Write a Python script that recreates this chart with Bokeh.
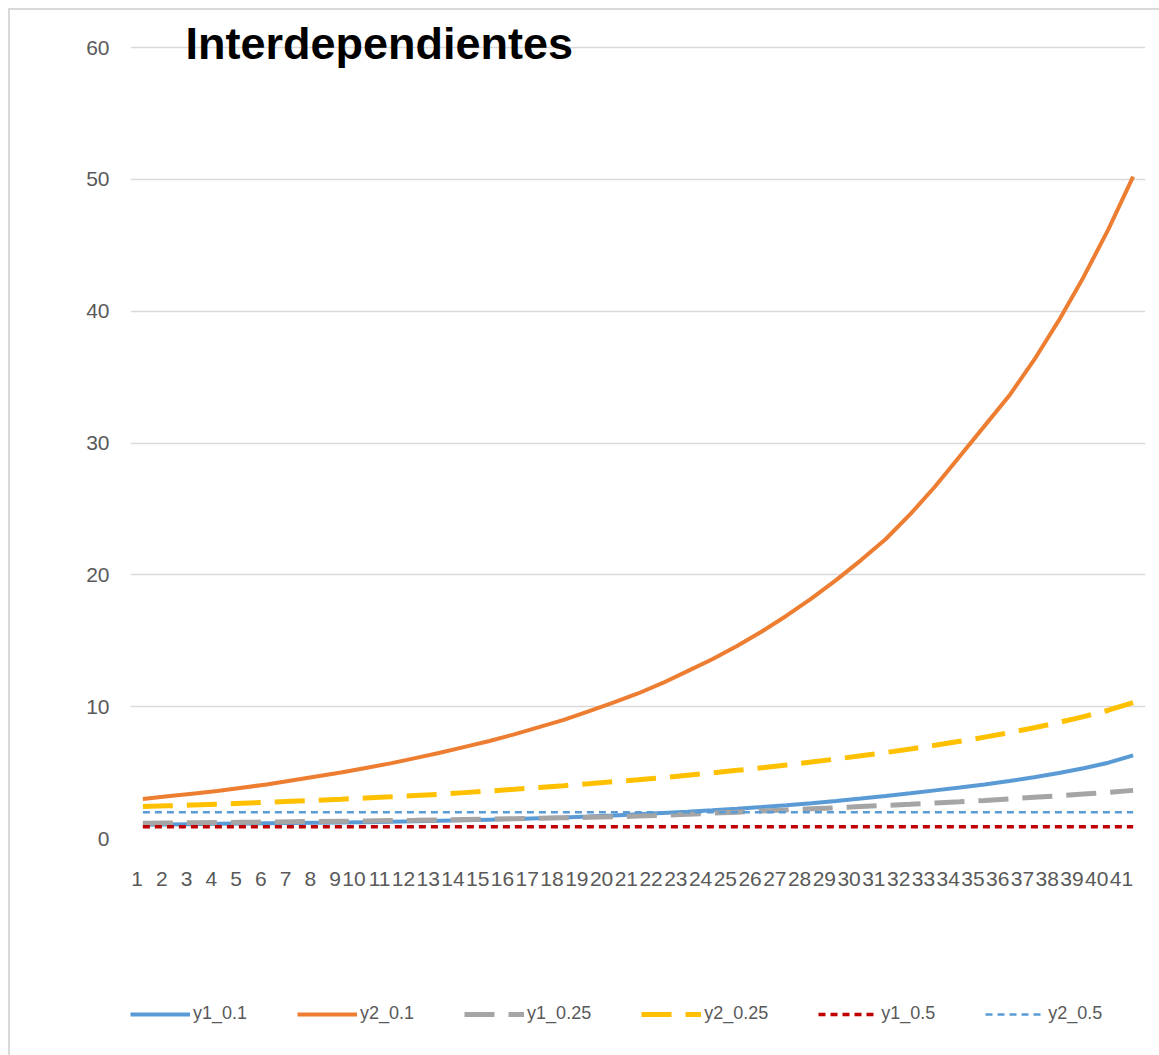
from bokeh.plotting import figure
from bokeh.layouts import column
from bokeh.models import Range1d, FactorRange, FixedTicker, Legend, LegendItem, Label
from bokeh.embed import file_html
from bokeh.resources import INLINE

categories = [str(i) for i in range(1, 42)]
y_ticks = [0, 10, 20, 30, 40, 50, 60]

y1_01 = [1.05, 1.07, 1.09, 1.11, 1.13, 1.15, 1.17, 1.19, 1.21, 1.24, 1.27, 1.30, 1.34, 1.38,
         1.43, 1.48, 1.54, 1.60, 1.67, 1.75, 1.84, 1.93, 2.03, 2.14, 2.26, 2.39, 2.53, 2.68,
         2.85, 3.03, 3.22, 3.43, 3.65, 3.87, 4.10, 4.36, 4.65, 4.97, 5.33, 5.75, 6.30]
y2_01 = [3.0, 3.2, 3.4, 3.6, 3.85, 4.1, 4.4, 4.7, 5.0, 5.35, 5.7, 6.1, 6.5, 6.95, 7.4, 7.9,
         8.45, 9.0, 9.65, 10.3, 11.0, 11.8, 12.7, 13.6, 14.6, 15.7, 16.9, 18.2, 19.6, 21.1,
         22.7, 24.6, 26.7, 29.0, 31.3, 33.6, 36.3, 39.3, 42.6, 46.2, 50.2]
y1_025 = [1.15, 1.17, 1.19, 1.21, 1.23, 1.25, 1.27, 1.29, 1.31, 1.33, 1.36, 1.38, 1.41, 1.44,
          1.47, 1.50, 1.53, 1.57, 1.61, 1.65, 1.70, 1.76, 1.83, 1.92, 2.00, 2.09, 2.17, 2.25,
          2.33, 2.42, 2.51, 2.60, 2.70, 2.79, 2.89, 3.00, 3.12, 3.24, 3.37, 3.50, 3.65]
y2_025 = [2.42, 2.48, 2.54, 2.60, 2.67, 2.74, 2.82, 2.90, 2.98, 3.07, 3.16, 3.26, 3.36, 3.48,
          3.60, 3.73, 3.87, 4.01, 4.16, 4.32, 4.45, 4.62, 4.80, 4.98, 5.17, 5.37, 5.58, 5.80,
          6.03, 6.27, 6.52, 6.79, 7.07, 7.37, 7.69, 8.03, 8.40, 8.80, 9.24, 9.73, 10.3]
y1_05 = [0.9] * 41
y2_05 = [2.0] * 41

series_names = ["y1_0.1", "y2_0.1", "y1_0.25", "y2_0.25", "y1_0.5", "y2_0.5"]
series_values = [y1_01, y2_01, y1_025, y2_025, y1_05, y2_05]
styles = [
    dict(line_color="#5B9BD5", line_width=4),
    dict(line_color="#ED7D31", line_width=4),
    dict(line_color="#A5A5A5", line_width=5, line_dash="30 14"),
    dict(line_color="#FFC000", line_width=5, line_dash="30 14"),
    dict(line_color="#C00000", line_width=3.5, line_dash="7 5"),
    dict(line_color="#5B9BD5", line_width=2.5, line_dash="7 5"),
]

tick_font = "Liberation Sans"

# main chart: frame extends a little above 60 so the title can sit over the top gridline
p = figure(width=1149, height=960, x_range=FactorRange(*categories), y_range=Range1d(0, 62.807),
           output_backend="svg", toolbar_location=None,
           min_border_left=120, min_border_right=14, min_border_top=0, min_border_bottom=132)
p.outline_line_color = None
p.background_fill_color = "white"
p.border_fill_color = "white"

p.xgrid.grid_line_color = None
p.ygrid.grid_line_color = "#d9d9d9"
p.ygrid.grid_line_width = 1.5
p.yaxis.ticker = FixedTicker(ticks=y_ticks)

for ax in (p.xaxis, p.yaxis):
    ax.axis_line_color = None
    ax.major_tick_line_color = None
    ax.minor_tick_line_color = None
    ax.major_tick_in = 0
    ax.major_tick_out = 0
    ax.major_label_text_color = "#595959"
    ax.major_label_text_font = tick_font
    ax.major_label_text_font_size = "21px"
p.xaxis.major_label_standoff = 40
p.yaxis.major_label_standoff = 21
p.xaxis.major_label_orientation = 0

for vals, st in zip(series_values, styles):
    p.line(x=categories, y=vals, **st)

title = Label(x=2.22, y=60.30, text="Interdependientes", text_font="Liberation Sans",
              text_font_style="bold", text_font_size="45px", text_color="black",
              text_baseline="alphabetic")
p.add_layout(title)

# legend strip below the chart (its lines lie outside its own view, only the legend shows)
p2 = figure(width=1149, height=85, x_range=FactorRange(*categories), y_range=Range1d(1000, 1001),
            output_backend="svg", toolbar_location=None,
            x_axis_location=None, y_axis_location=None,
            min_border_left=0, min_border_right=0, min_border_top=0, min_border_bottom=0)
p2.outline_line_color = None
p2.xgrid.grid_line_color = None
p2.ygrid.grid_line_color = None
p2.background_fill_color = "white"
p2.border_fill_color = "white"

items = []
for name, vals, st in zip(series_names, series_values, styles):
    r = p2.line(x=categories, y=vals, **st)
    items.append(LegendItem(label=name, renderers=[r]))

legend = Legend(items=items, location=(0, 31), orientation="horizontal",
                glyph_width=60, glyph_height=20, label_standoff=3, spacing=50,
                label_text_font=tick_font, label_text_font_size="18px",
                label_text_color="#595959", border_line_color=None,
                background_fill_alpha=0, padding=6, margin=0)
p2.add_layout(legend)

layout = column(p, p2, spacing=0, margin=(8, 0, 0, 8),
                styles={"border-top": "2px solid #d9d9d9", "border-left": "2px solid #d9d9d9"})

open("out.html", "w").write(file_html(layout, INLINE))
